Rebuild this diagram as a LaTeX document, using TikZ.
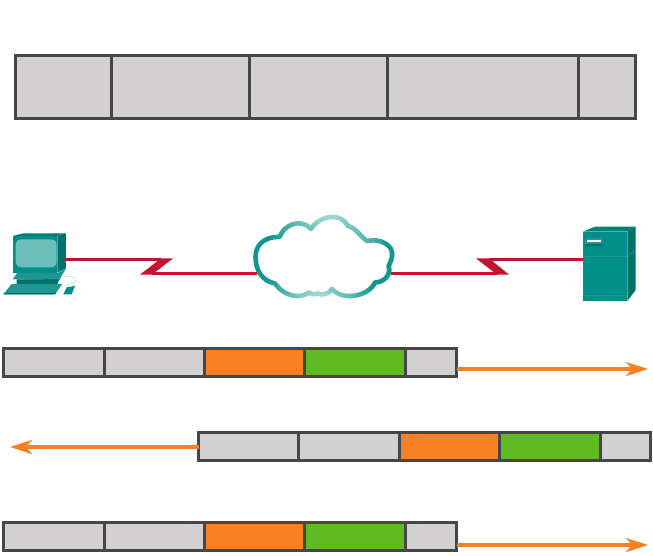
\documentclass[tikz,border=0pt]{standalone}
\usetikzlibrary{arrows.meta,fadings}
\definecolor{cellgrey}{RGB}{210,208,208}
\definecolor{celledge}{RGB}{70,70,72}
\definecolor{cellorange}{RGB}{247,129,36}
\definecolor{cellgreen}{RGB}{95,187,33}
\definecolor{serialred}{RGB}{196,18,48}
\definecolor{teal0}{RGB}{15,150,142}
\definecolor{teal1}{RGB}{0,142,137}
\definecolor{teal2}{RGB}{0,112,108}
\definecolor{teal3}{RGB}{30,150,145}
\definecolor{teal4}{RGB}{108,190,186}
\tikzfading[name=softspot, inner color=transparent!25, outer color=transparent!100]
\tikzset{
  cell/.style={draw=celledge, line width=2.6pt, inner sep=0pt, outer sep=0pt, anchor=north west},
  topcell/.style={cell, fill=cellgrey, minimum height=63pt},
  greycell/.style={cell, fill=cellgrey, minimum height=28pt},
  orangecell/.style={cell, fill=cellorange, minimum height=28pt},
  greencell/.style={cell, fill=cellgreen, minimum height=28pt},
  serial/.style={draw=serialred, line width=2.2pt},
  flow/.style={draw=cellorange, line width=3.8pt, -{Stealth[length=22pt,width=14pt,inset=6pt]}},
}
\begin{document}
\begin{tikzpicture}[x=1pt,y=-1pt]
\useasboundingbox (0,0) rectangle (653,556);

% top frame
\node[topcell, minimum width=96pt]  (t1) at (15.5,55.5) {};
\node[topcell, minimum width=138pt] (t2) at (111.5,55.5) {};
\node[topcell, minimum width=138pt] (t3) at (249.5,55.5) {};
\node[topcell, minimum width=191pt] (t4) at (387.5,55.5) {};
\node[topcell, minimum width=57pt]  (t5) at (578.5,55.5) {};

% anchors for the serial links
\coordinate (pcport) at (66,259.5);
\coordinate (cloudL) at (257,273.5);
\coordinate (cloudR) at (391,273.5);
\coordinate (srvport) at (583,259.5);

\draw[serial] (pcport) -- (161,259.5);
\fill[serialred] (161,258.4) -- (173,258.4) -- (152,274.6) -- (140,274.6) -- cycle;
\draw[serial] (152,273.5) -- (cloudL);
\draw[serial] (cloudR) -- (497,273.5);
\fill[serialred] (476,258.4) -- (489,258.4) -- (509,274.6) -- (497,274.6) -- cycle;
\draw[serial] (489,259.5) -- (srvport);

% cloud
\draw[teal0, line width=4.6pt, line join=round, fill=white]
  (255.5,257) .. controls (255.5,245) and (264,237.5) .. (276.7,237)
  -- (280,236.5)
  .. controls (283,226) and (300,217) .. (311,229)
  .. controls (316,219) and (338,209) .. (348,226)
  .. controls (356,228) and (360,236) .. (367,241)
  .. controls (380,238) and (394,245) .. (392,256)
  .. controls (391.5,260) and (390,263) .. (388.5,266.5)
  .. controls (391,270) and (388,282) .. (375,282.5)
  .. controls (368,297) and (342,301) .. (332,289)
  .. controls (329,294) and (322,296) .. (318,293.5)
  .. controls (315,295) and (312,294.5) .. (309,292.5)
  .. controls (300,299) and (285,297) .. (275,283.5)
  .. controls (262,281) and (255.5,270) .. (255.5,257) -- cycle;
\fill[white, path fading=softspot] (328,205) circle (68pt);
\fill[white, path fading=softspot] (318,305) circle (58pt);
\fill[white, opacity=.25, path fading=softspot] (362,245) circle (30pt);

% computer
\begin{scope}[shift={(0,210)}, x=0.3333pt, y=-0.3333pt]
  \fill[teal2] (172,78) -- (198,70) -- (198,175) -- (172,188) -- cycle;
  \fill[teal2!60!teal1] (38,78) -- (70,70) -- (198,70) -- (172,78) -- cycle;
  \fill[teal1] (38,78) -- (172,78) -- (172,188) -- (38,188) -- cycle;
  \fill[teal4, rounded corners=5pt] (47,88) rectangle (170,172);
  \fill[teal3] (38,208) -- (52,188) -- (175,188) -- (198,175) -- (178,210) -- cycle;
  \fill[teal2] (50,208) -- (178,208) -- (172,223) -- (50,223) -- cycle;
  \draw[teal4!60, line width=.4pt] (190,200) .. controls (225,195) and (250,215) .. (195,226);
  \fill[teal3] (10,253) -- (35,222) -- (187,222) -- (165,253) -- cycle;
  \fill[teal2] (10,253) -- (165,253) -- (168,249) -- (13,249) -- cycle;
  \fill[teal1] (190,253) -- (200,232) -- (225,228) -- (215,253) -- cycle;
\end{scope}

% server
\begin{scope}[shift={(470,215)}, x=0.3333pt, y=-0.3333pt]
  \fill[teal2] (472,50) -- (497,35) -- (497,225) -- (472,258) -- cycle;
  \fill[teal2!45!teal1] (338,50) -- (375,35) -- (497,35) -- (472,50) -- cycle;
  \fill[teal1] (338,50) rectangle (472,258);
  \fill[teal3] (338,123) rectangle (472,126);
  \fill[teal3] (472,126) -- (497,100) -- (497,103) -- (472,129) -- cycle;
  \fill[teal3] (338,239) rectangle (472,242);
  \fill[teal3] (345,68) rectangle (400,92);
  \fill[teal2] (345,86) rectangle (400,92);
  \fill[white] (352,75) rectangle (392,82);
\end{scope}

% frame row 1
\node[greycell, minimum width=101pt]   (a1) at (3.5,348.5) {};
\node[greycell, minimum width=100pt]   (a2) at (104.5,348.5) {};
\node[orangecell, minimum width=100pt] (a3) at (204.5,348.5) {};
\node[greencell, minimum width=101pt]  (a4) at (304.5,348.5) {};
\node[greycell, minimum width=51pt]    (a5) at (405.5,348.5) {};
\coordinate (a6) at (648,369);
\draw[flow] (a5.east |- a6) -- (a6);

% frame row 2
\node[greycell, minimum width=100pt]   (b1) at (198.5,432.5) {};
\node[greycell, minimum width=101pt]   (b2) at (298.5,432.5) {};
\node[orangecell, minimum width=100pt] (b3) at (399.5,432.5) {};
\node[greencell, minimum width=101pt]  (b4) at (499.5,432.5) {};
\node[greycell, minimum width=50pt]    (b5) at (600.5,432.5) {};
\coordinate (b6) at (10,447);
\draw[flow] (b1.west |- b6) -- (b6);

% frame row 3
\node[greycell, minimum width=101pt]   (c1) at (3.5,522.5) {};
\node[greycell, minimum width=100pt]   (c2) at (104.5,522.5) {};
\node[orangecell, minimum width=100pt] (c3) at (204.5,522.5) {};
\node[greencell, minimum width=101pt]  (c4) at (304.5,522.5) {};
\node[greycell, minimum width=51pt]    (c5) at (405.5,522.5) {};
\coordinate (c6) at (648,545);
\draw[flow] (c5.east |- c6) -- (c6);
\end{tikzpicture}
\end{document}
